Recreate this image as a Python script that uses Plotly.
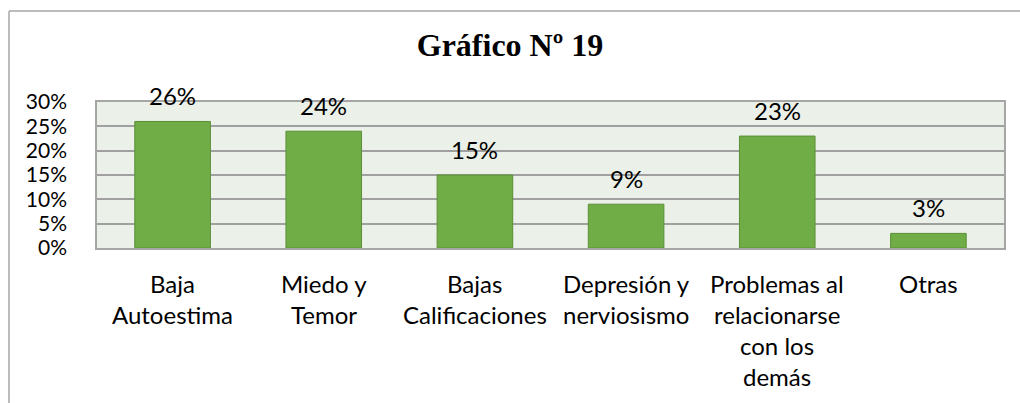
import plotly.graph_objects as go

categories = ["Baja<br>Autoestima", "Miedo y<br>Temor", "Bajas<br>Calificaciones",
              "Depresión y<br>nerviosismo", "Problemas al<br>relacionarse<br>con los<br>demás", "Otras"]
values = [26, 24, 15, 9, 23, 3]
value_labels = ["26%", "24%", "15%", "9%", "23%", "3%"]
tick_vals = [0, 5, 10, 15, 20, 25, 30]
tick_text = ["0%", "5%", "10%", "15%", "20%", "25%", "30%"]
title_text = "<b>Gráfico Nº 19</b>"

FONT = "Lato"
FS = 24

fig = go.Figure()
fig.add_trace(go.Bar(
    x=categories, y=values, width=0.5,
    marker=dict(color="#70AD47", line=dict(color="#5A8F37", width=1)),
    hoverinfo="skip",
))

annotations = []
for c, v, t in zip(categories, values, value_labels):
    annotations.append(dict(x=c, y=v, xref="x", yref="y", text=t, showarrow=False,
                            yanchor="middle", yshift=26,
                            font=dict(family=FONT, size=FS, color="#000000")))
    for i, line in enumerate(c.split("<br>")):
        annotations.append(dict(x=c, y=0, xref="x", yref="paper", text=line, showarrow=False,
                                yanchor="middle", yshift=-(35 + 31 * i),
                                font=dict(family=FONT, size=FS, color="#000000")))

fig.update_layout(
    width=1020, height=403,
    margin=dict(l=97, r=16, t=102, b=155),
    paper_bgcolor="white", plot_bgcolor="#EBF0E8",
    showlegend=False,
    title=dict(text=title_text, x=0.5, xanchor="center", y=1 - 45 / 403, yanchor="middle",
               font=dict(family="Liberation Serif", size=32, color="#000000")),
    annotations=annotations,
    bargap=0.5,
    shapes=[
        dict(type="line", xref="paper", yref="paper", x0=(9 - 97) / 907, x1=(1030 - 97) / 907,
             y0=1 + (102 - 11) / 146, y1=1 + (102 - 11) / 146, line=dict(color="#A6A6A6", width=1.5)),
        dict(type="line", xref="paper", yref="paper", x0=(9 - 97) / 907, x1=(9 - 97) / 907,
             y0=1 + (102 - 11) / 146, y1=-(420 - 248) / 146, line=dict(color="#A6A6A6", width=1.5)),
    ],
)
fig.update_xaxes(showticklabels=False, showgrid=False, showline=True, linecolor="#A6A6A6",
                 linewidth=1.5, mirror=True, ticks="")
fig.update_yaxes(range=[0, 30], tickvals=tick_vals, ticktext=tick_text, showgrid=True,
                 gridcolor="#A0A0A0", gridwidth=1.5, showline=True, linecolor="#A6A6A6",
                 linewidth=1.5, mirror=True, ticks="", ticklabelstandoff=24, zeroline=False,
                 tickfont=dict(family=FONT, size=21, color="#000000"))

fig.write_html("out.html", config={"displayModeBar": False},
               post_script="document.body.style.margin='0';document.body.style.padding='0';")
